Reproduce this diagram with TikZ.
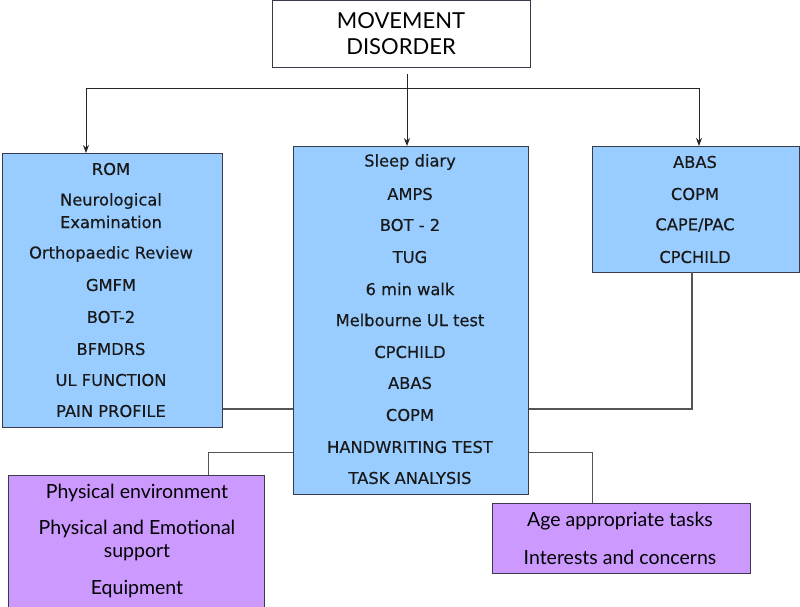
\documentclass[tikz,border=0pt]{standalone}
\usepackage{fontspec}
\setmainfont{DejaVu Sans}
\newfontfamily\lightfont{Lato}
\usetikzlibrary{arrows.meta}
\definecolor{bluefill}{HTML}{99CCFF}
\definecolor{purplefill}{HTML}{CC99FF}
\definecolor{edge}{HTML}{3A3A4A}
\definecolor{conn}{HTML}{555555}
\begin{document}
\begin{tikzpicture}[x=1pt,y=-1pt,
  box/.style={draw=edge, line width=1pt, anchor=north west, inner sep=0pt},
  topbox/.style={box, fill=white},
  bluebox/.style={box, fill=bluefill},
  purplebox/.style={box, fill=purplefill},
  txt/.style={font=\addfontfeatures{FakeBold=0.4}\fontsize{16.3}{18}\selectfont, text=black!90, inner sep=0pt},
  ptxt/.style={font=\lightfont\fontsize{19.5}{21}\selectfont, text=black, inner sep=0pt},
  ttxt/.style={font=\lightfont\fontsize{22}{24}\selectfont, text=black, inner sep=0pt},
  arr/.style={-{Stealth[length=8pt,width=6pt]}, line width=1pt, black!85},
  link/.style={line width=1.2pt, conn},
  thinlink/.style={line width=0.8pt, conn}
]
\useasboundingbox (0,0) rectangle (800,606);

% boxes
\node[topbox, minimum width=258pt, minimum height=67pt] (T) at (272,0) {};
\node[bluebox, minimum width=220pt, minimum height=274pt] (L) at (2,153) {};
\node[bluebox, minimum width=235pt, minimum height=348pt] (M) at (293,146) {};
\node[bluebox, minimum width=207pt, minimum height=126pt] (R) at (592,146) {};
\node[purplebox, minimum width=256pt, minimum height=132pt] (PL) at (8,475) {};
\node[purplebox, minimum width=258pt, minimum height=70pt] (PR) at (492,503) {};

% top text
\node[ttxt] (t1) at (401,21) {MOVEMENT};
\node[ttxt] (t2) at (401,47) {DISORDER};

% left box text
\node[txt] (l1) at (111,169) {ROM};
\node[txt] (l2) at (111,201) {Neurological};
\node[txt] (l3) at (111,222) {Examination};
\node[txt] (l4) at (111,254) {Orthopaedic Review};
\node[txt] (l5) at (111,285) {GMFM};
\node[txt] (l6) at (111,317) {BOT-2};
\node[txt] (l7) at (111,349) {BFMDRS};
\node[txt] (l8) at (111,380) {UL FUNCTION};
\node[txt] (l9) at (111,411) {PAIN PROFILE};

% middle box text
\node[txt] (m1) at (410,162) {Sleep diary};
\node[txt] (m2) at (410,194) {AMPS};
\node[txt] (m3) at (410,225) {BOT - 2};
\node[txt] (m4) at (410,257) {TUG};
\node[txt] (m5) at (410,289) {6 min walk};
\node[txt] (m6) at (410,320) {Melbourne UL test};
\node[txt] (m7) at (410,352) {CPCHILD};
\node[txt] (m8) at (410,383) {ABAS};
\node[txt] (m9) at (410,415) {COPM};
\node[txt] (m10) at (410,447) {HANDWRITING TEST};
\node[txt] (m11) at (410,478) {TASK ANALYSIS};

% right box text
\node[txt] (r1) at (695,162) {ABAS};
\node[txt] (r2) at (695,194) {COPM};
\node[txt] (r3) at (695,225) {CAPE/PAC};
\node[txt] (r4) at (695,257) {CPCHILD};

% purple left text
\node[ptxt] (p1) at (137,493) {Physical environment};
\node[ptxt] (p2) at (137,529) {Physical and Emotional};
\node[ptxt] (p3) at (137,553) {support};
\node[ptxt] (p4) at (137,589) {Equipment};

% purple right text
\node[ptxt] (q1) at (620,521) {Age appropriate tasks};
\node[ptxt] (q2) at (620,557) {Interests and concerns};

% connectors from top
\coordinate (s) at (407,74);
\coordinate (h) at (407,88);
\coordinate (lt) at (86,153);
\coordinate (mt) at (407,146);
\coordinate (rt) at (699,146);
\draw[arr] (s) -- (mt);
\draw[line width=1pt, black!85] (lt |- h) -- (rt |- h);
\draw[arr] (lt |- h) -- (lt);
\draw[arr] (rt |- h) -- (rt);

% lower connectors
\coordinate (rb) at (692,272);
\draw[link] (L.east |- 0,409) -- (M.west |- 0,409);
\draw[link] (rb) -- (692,409) -- (M.east |- 0,409);
\coordinate (plt) at (208,475);
\coordinate (prt) at (592,503);
\draw[thinlink] (M.west |- 0,452) -| (plt);
\draw[thinlink] (M.east |- 0,452) -| (prt);
\end{tikzpicture}
\end{document}
